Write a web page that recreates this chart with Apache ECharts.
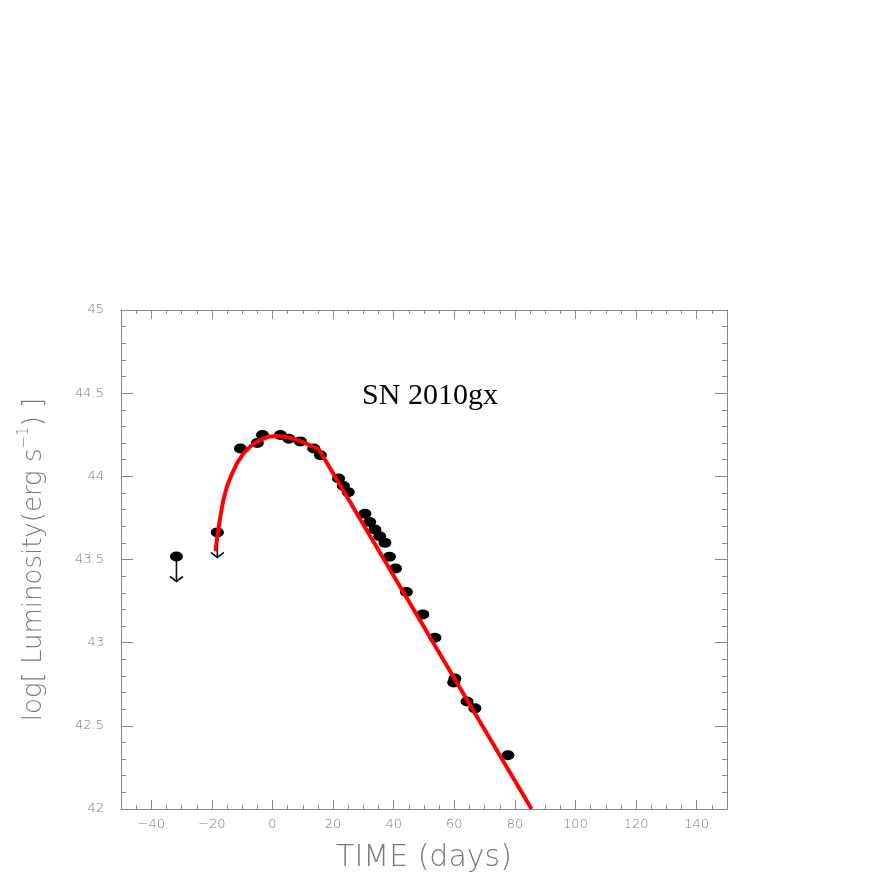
<!doctype html>
<html lang="en">
<head>
    <meta charset="utf-8">
    <title>SN 2010gx</title>
    <script src="https://cdn.jsdelivr.net/npm/echarts@6/dist/echarts.min.js"></script>
    <style>
        *{margin:0;padding:0}
        html,body{width:100%;height:100%;background:#fff}
        #main{width:872px;height:872px}
    </style>
</head>
<body>
<div id="main"></div>
<script type="text/javascript">
    // observed light curve (days, log L)
    var obsTime = [-10.6, -5, -3.3, 2.6, 5.4, 9.2, 13.6, 15.8, 21.8, 23.4, 25, 30.5, 32.1, 33.8,
        35.4, 37.1, 38.6, 40.6, 44.2, 49.6, 53.6, 59.8, 60.2, 64.2, 66.8, 77.7];
    var obsLum = [44.167, 44.20, 44.248, 44.248, 44.226, 44.21, 44.167, 44.127, 43.987, 43.942, 43.905,
        43.775, 43.725, 43.68, 43.64, 43.60, 43.516, 43.446, 43.305, 43.17, 43.03, 42.76, 42.784,
        42.646, 42.605, 42.323];
    // upper limits
    var limTime = [-31.7, -18.2];
    var limLum = [43.518, 43.663];
    // model curve
    var modelTime = [-18.8, -18.2, -17.2, -16.2, -15, -13.5, -11.7, -9.5, -7.3, -4.5, -1.8, 1, 4, 6.5,
        9.2, 12, 15.3, 85.5];
    var modelLum = [43.55, 43.64, 43.76, 43.86, 43.94, 44.01, 44.08, 44.14, 44.18, 44.215, 44.236,
        44.243, 44.238, 44.228, 44.212, 44.19, 44.163, 42.0];
    var xMajor = [-40, -20, 0, 20, 40, 60, 80, 100, 120, 140];

    function pairs(a, b) {
        var out = [];
        for (var i = 0; i < a.length; i++) out.push([a[i], b[i]]);
        return out;
    }

    var axisGray = '#8a8a8a';
    var labelStyle = {color: '#7a7a7a', fontSize: 13, fontFamily: 'DejaVu Sans', fontWeight: 'lighter'};

    function xAxisDef(pos, major, labels) {
        var ax = {
            type: 'value', position: pos, min: -50, max: 150, interval: 5,
            axisLine: {show: true, onZero: false, lineStyle: {color: axisGray, width: 1}},
            axisTick: {show: true, inside: true, length: major ? 9 : 4, lineStyle: {color: axisGray}},
            axisLabel: {show: false},
            splitLine: {show: false}
        };
        if (major) {
            ax.axisTick.customValues = xMajor;
            ax.axisLabel = {show: labels, customValues: xMajor, margin: 9,
                formatter: function (v) { return String(v).replace('-', '\u2212'); }};
            Object.assign(ax.axisLabel, labelStyle);
        }
        if (labels) {
            ax.name = 'TIME (days)';
            ax.nameLocation = 'middle';
            ax.nameGap = 34;
            ax.nameTextStyle = {fontSize: 30, color: '#7a7a7a', fontFamily: 'DejaVu Sans', fontWeight: 'lighter'};
        }
        return ax;
    }

    function yAxisDef(pos, labels) {
        var ax = {
            type: 'value', position: pos, min: 42, max: 45, interval: 0.5,
            axisLine: {show: true, onZero: false, lineStyle: {color: axisGray, width: 1}},
            axisTick: {show: true, inside: true, length: 12, lineStyle: {color: axisGray}},
            minorTick: {show: true, splitNumber: 5, length: 5, lineStyle: {color: axisGray}},
            axisLabel: {show: labels, margin: 17},
            splitLine: {show: false}
        };
        Object.assign(ax.axisLabel, labelStyle);
        if (labels) {
            ax.name = '{a|log[ Luminosity(erg s}{s|\u22121}{a|) ]}';
            ax.nameLocation = 'middle';
            ax.nameGap = 70;
            ax.nameTextStyle = {
                color: '#7a7a7a', fontFamily: 'DejaVu Sans', fontWeight: 'lighter',
                rich: {
                    a: {fontSize: 26, color: '#7a7a7a', fontFamily: 'DejaVu Sans', fontWeight: 'lighter', lineHeight: 34},
                    s: {fontSize: 15, color: '#7a7a7a', fontFamily: 'DejaVu Sans', fontWeight: 'lighter', verticalAlign: 'top', lineHeight: 34}
                }
            };
        }
        return ax;
    }

    var myChart = echarts.init(document.getElementById('main'));
    var option = {
        animation: false,
        backgroundColor: '#fff',
        title: {
            text: 'SN 2010gx', left: 425, top: 376, textAlign: 'center',
            textStyle: {fontFamily: 'Liberation Serif', fontSize: 30, fontWeight: 'normal', color: '#000'}
        },
        grid: {left: 121, right: 145, top: 310, bottom: 63, outerBoundsMode: 'none', containLabel: false},
        xAxis: [
            xAxisDef('bottom', true, true),
            xAxisDef('bottom', false, false),
            xAxisDef('top', true, false),
            xAxisDef('top', false, false)
        ],
        yAxis: [
            yAxisDef('left', true),
            yAxisDef('right', false)
        ],
        series: [
            {
                name: 'data', type: 'scatter', z: 2,
                symbol: 'circle', symbolSize: [13, 10],
                itemStyle: {color: '#000', opacity: 1},
                data: pairs(obsTime, obsLum)
            },
            {
                name: 'limits', type: 'scatter', z: 2,
                symbol: 'circle', symbolSize: [13, 10],
                itemStyle: {color: '#000', opacity: 1},
                data: pairs(limTime, limLum)
            },
            {
                name: 'arrows', type: 'custom', z: 2,
                renderItem: function (params, api) {
                    var p = api.coord([api.value(0), api.value(1)]);
                    return {
                        type: 'group',
                        children: [
                            {type: 'line', shape: {x1: p[0], y1: p[1], x2: p[0], y2: p[1] + 25},
                                style: {stroke: '#111', lineWidth: 1.6}},
                            {type: 'polyline', shape: {points: [[p[0] - 6.5, p[1] + 20], [p[0], p[1] + 25], [p[0] + 6.5, p[1] + 20]]},
                                style: {stroke: '#111', fill: null, lineWidth: 1.6}}
                        ]
                    };
                },
                data: pairs(limTime, limLum)
            },
            {
                name: 'model', type: 'line', z: 5,
                showSymbol: false, smooth: false,
                lineStyle: {color: '#ff0000', width: 4},
                data: pairs(modelTime, modelLum)
            }
        ]
    };
    myChart.setOption(option);
</script>
</body>
</html>
